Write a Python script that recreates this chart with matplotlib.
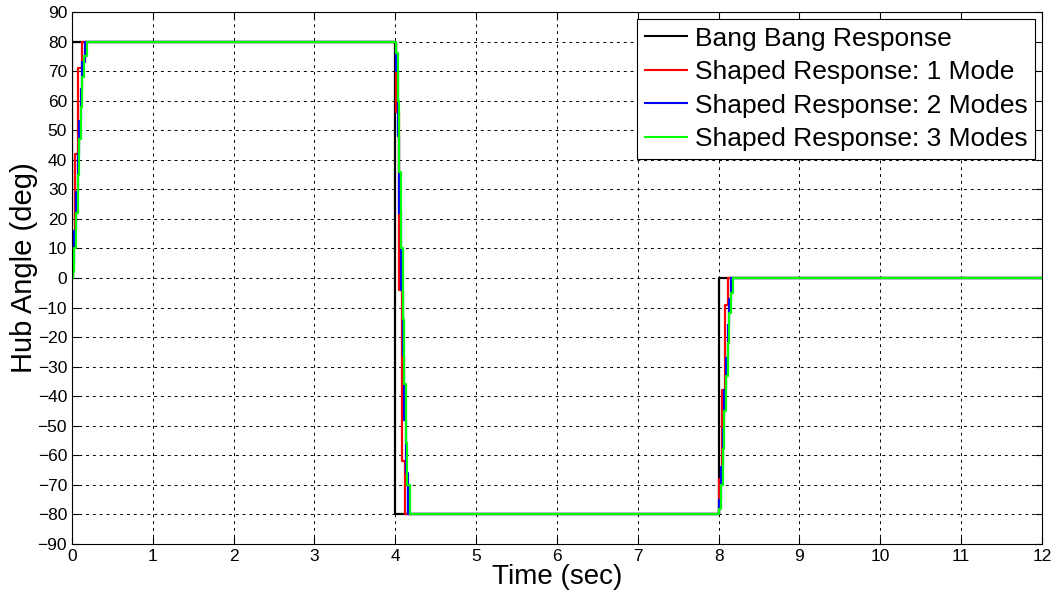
import matplotlib
matplotlib.use("Agg")
import matplotlib.pyplot as plt

# ---- data ----
t_bang = [0.0, 0.0, 4.0, 8.0, 12.0]
y_bang = [0, 80, -80, 0, 0]

t_mode1 = [0.0, 0.01, 0.04, 0.08, 0.12,
           4.0, 4.01, 4.04, 4.08, 4.12,
           8.0, 8.01, 8.04, 8.08, 8.12, 12.0]
y_mode1 = [0, 12, 42, 71, 80,
           80, 56, -4, -62, -80,
           -80, -68, -38, -9, 0, 0]

t_mode2 = [0.0, 0.01, 0.03, 0.05, 0.07, 0.09, 0.11, 0.13, 0.155,
           4.0, 4.01, 4.03, 4.05, 4.07, 4.09, 4.11, 4.13, 4.155,
           8.0, 8.01, 8.03, 8.05, 8.07, 8.09, 8.11, 8.13, 8.155, 12.0]
y_mode2 = [0, 5, 16, 29, 42, 53, 64, 73, 80,
           80, 70, 48, 22, -4, -26, -48, -66, -80,
           -80, -75, -64, -51, -38, -27, -16, -7, 0, 0]

t_mode3 = [0.0, 0.01, 0.03, 0.05, 0.07, 0.09, 0.11, 0.13, 0.15, 0.18,
           4.0, 4.01, 4.03, 4.05, 4.07, 4.09, 4.11, 4.13, 4.15, 4.18,
           8.0, 8.01, 8.03, 8.05, 8.07, 8.09, 8.11, 8.13, 8.15, 8.18, 12.0]
y_mode3 = [0, 2, 10, 22, 35, 47, 58, 68, 75, 80,
           80, 76, 60, 36, 10, -14, -36, -56, -70, -80,
           -80, -78, -70, -58, -45, -33, -22, -12, -5, 0, 0]

labels = ["Bang Bang Response", "Shaped Response: 1 Mode",
          "Shaped Response: 2 Modes", "Shaped Response: 3 Modes"]
colors = ["black", "#ff0000", "#0000ff", "#00ff00"]

x_ticks = list(range(0, 13))
y_ticks = list(range(-90, 91, 10))

plt.rcParams['font.family'] = ['Liberation Sans', 'DejaVu Sans']

fig = plt.figure(figsize=(10.57, 5.94), dpi=100)
ax = fig.add_axes([0.0681, 0.0842, 0.9177, 0.8956])

series = [(t_bang, y_bang), (t_mode1, y_mode1), (t_mode2, y_mode2), (t_mode3, y_mode3)]
for (t, y), c, lab in zip(series, colors, labels):
    ax.plot(t, y, drawstyle='steps-post', color=c, lw=1.6, label=lab)

ax.set_xlim(0, 12)
ax.set_ylim(-90, 90)
ax.set_xticks(x_ticks)
ax.set_yticks(y_ticks)
ax.tick_params(direction='in', top=True, right=True, labelsize=12.5, length=5, width=0.8)
ax.grid(True, color='black', linestyle=(0, (3, 4)), linewidth=0.7)
ax.set_axisbelow(True)
for s in ax.spines.values():
    s.set_linewidth(0.8)
ax.set_xlabel("Time (sec)", fontsize=20, labelpad=0)
ax.set_ylabel("Hub Angle (deg)", fontsize=21, labelpad=0)
ax.yaxis.set_label_coords(-0.035, 0.52)

leg = ax.legend(loc='upper right', fontsize=19, frameon=True, fancybox=False,
                edgecolor='black', framealpha=1, handlelength=1.6, handletextpad=0.3,
                labelspacing=0.36, borderpad=0.3, borderaxespad=0.25)
leg.get_frame().set_linewidth(0.8)
for l in leg.get_lines():
    l.set_linewidth(1.5)

fig.savefig("out.png", dpi=100)
